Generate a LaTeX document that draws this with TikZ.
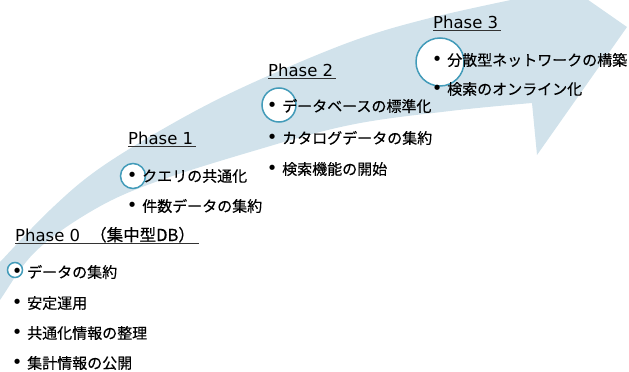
\documentclass[tikz,border=0pt]{standalone}
\usepackage{fontspec}
\setmainfont{Noto Sans CJK JP}[FakeBold=0.35]
\newfontfamily\dvfont{DejaVu Sans}
\definecolor{bandblue}{RGB}{209,226,235}
\definecolor{ringteal}{RGB}{66,155,185}
\newcommand\bul[1]{{\dvfont\fontsize{18}{18}\selectfont •}\hspace{4.7pt}#1}
\begin{document}
\begin{tikzpicture}[x=1pt,y=-1pt,
  phaselabel/.style={anchor=base west, inner sep=0pt, font=\dvfont\fontsize{16.5}{19}\selectfont},
  itemtext/.style={anchor=west, inner sep=0pt, font=\fontsize{15}{18}\selectfont},
  ring/.style={circle, draw=ringteal, fill=white, line width=1.5pt, inner sep=0pt},
  uline/.style={draw=black!80, line width=0.8pt}]
\useasboundingbox (0,0) rectangle (629,372);
\clip (0,0) rectangle (629,372);
% curved arrow band
\fill[bandblue]
  plot[smooth, tension=0.6] coordinates {(-6,309) (0,300) (35,252) (90,212) (150,184) (250,152) (350,125) (450,111) (532,103)}
  -- (537,155) -- (627,27) -- (505,-58) -- (530,-4)
  -- plot[smooth, tension=0.6] coordinates {(530,-4) (430,18) (350,42) (250,84) (177,121) (100,168) (50,210) (0,262) (-6,268)}
  -- cycle;
% rings
\node[ring, minimum size=15pt] (c0) at (15,270) {};
\node[ring, minimum size=25pt] (c1) at (133,176) {};
\node[ring, minimum size=34pt] (c2) at (279,105) {};
\node[ring, minimum size=48pt] (c3) at (440,62) {};
% Phase 0
\node[phaselabel] (p0) at (15,241) {Phase 0\hspace{10pt}{\rmfamily\fontsize{16.5}{18}\selectfont （集中型DB）}};
\draw[uline] ([yshift=-2pt]p0.base west) -- ([xshift=4pt,yshift=-2pt]p0.base east);
\node[itemtext] (a1) at (11.7,272) {\bul{データの集約}};
\node[itemtext] (a2) at (11.7,303) {\bul{安定運用}};
\node[itemtext] (a3) at (11.7,333) {\bul{共通化情報の整理}};
\node[itemtext] (a4) at (11.7,363) {\bul{集計情報の公開}};
% Phase 1
\node[phaselabel] (p1) at (128,144) {Phase 1};
\draw[uline] ([yshift=-2pt]p1.base west) -- ([xshift=3pt,yshift=-2pt]p1.base east);
\node[itemtext] (b1) at (126.7,176) {\bul{クエリの共通化}};
\node[itemtext] (b2) at (126.7,206) {\bul{件数データの集約}};
% Phase 2
\node[phaselabel] (p2) at (268,76) {Phase 2};
\draw[uline] ([yshift=-2pt]p2.base west) -- ([xshift=3pt,yshift=-2pt]p2.base east);
\node[itemtext] (d1) at (266.7,106) {\bul{データベースの標準化}};
\node[itemtext] (d2) at (266.7,138) {\bul{カタログデータの集約}};
\node[itemtext] (d3) at (266.7,169) {\bul{検索機能の開始}};
% Phase 3
\node[phaselabel] (p3) at (433,28) {Phase 3};
\draw[uline] ([yshift=-2pt]p3.base west) -- ([xshift=3pt,yshift=-2pt]p3.base east);
\node[itemtext] (e1) at (431.7,60) {\bul{分散型ネットワークの構築}};
\node[itemtext] (e2) at (431.7,89) {\bul{検索のオンライン化}};
\end{tikzpicture}
\end{document}
